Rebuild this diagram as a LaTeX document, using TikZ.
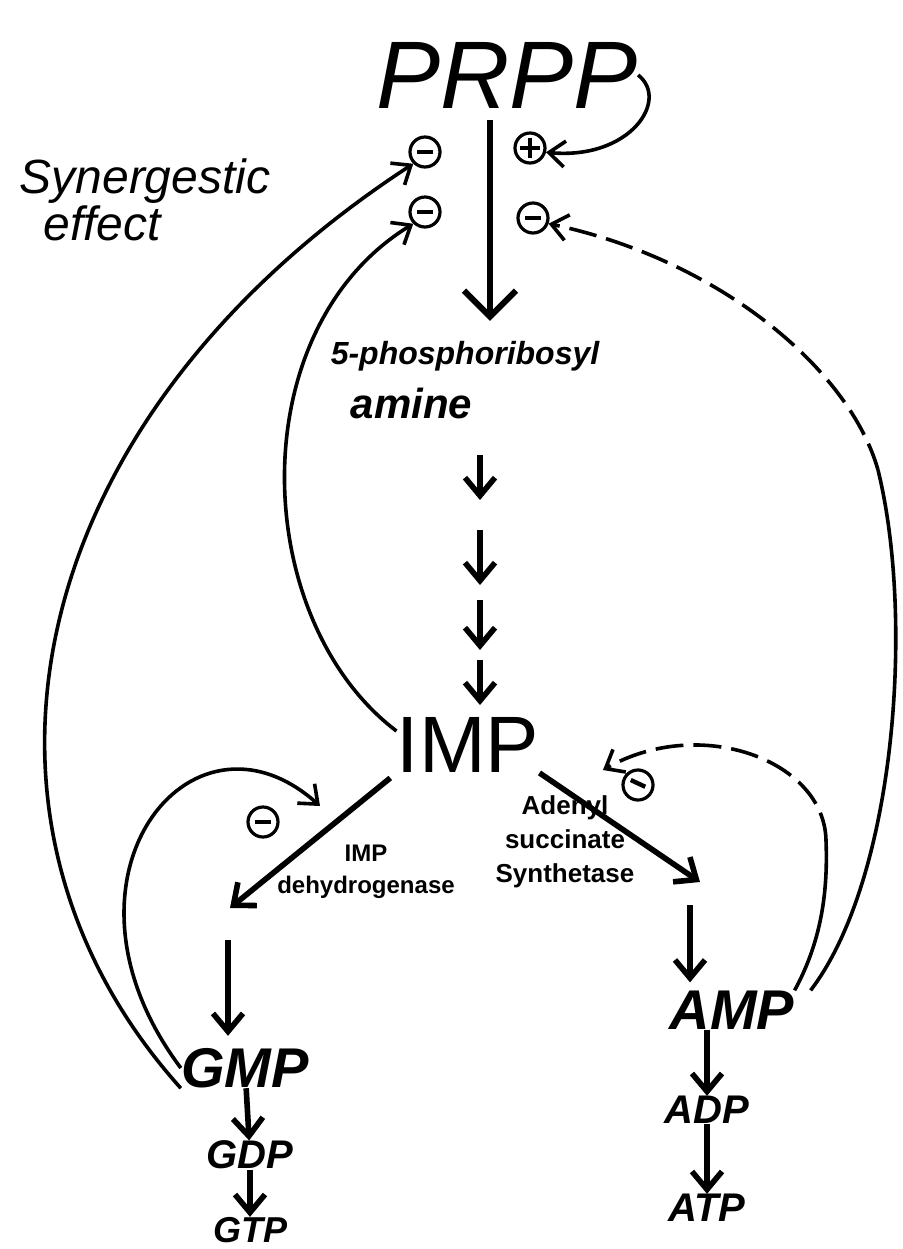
\documentclass[tikz,border=0pt]{standalone}
\usepackage{fontspec}
\setmainfont{Liberation Sans}
\usetikzlibrary{arrows.meta,positioning,calc}

\begin{document}
\begin{tikzpicture}[x=0.5pt,y=-0.5pt,
 big/.style={font=\fontsize{48}{48}\selectfont\itshape, inner sep=0pt},
 met/.style={font=\fontsize{28}{28}\selectfont\bfseries\itshape, inner sep=0pt},
 nuc/.style={font=\fontsize{20}{20}\selectfont\bfseries\itshape, inner sep=0pt},
 enz/.style={font=\fontsize{12}{16}\selectfont\bfseries, align=center, inner sep=0pt},
 regsign/.style={circle, draw, line width=1.6pt, minimum size=15pt, inner sep=0pt},
 inhsign/.style={regsign, path picture={
   \draw[line width=2.2pt] ([xshift=-4pt]path picture bounding box.center) -- ([xshift=4pt]path picture bounding box.center);}},
 actsign/.style={regsign, path picture={
   \draw[line width=1.8pt] ([xshift=-5pt]path picture bounding box.center) -- ([xshift=5pt]path picture bounding box.center)
     ([yshift=-5pt]path picture bounding box.center) -- ([yshift=5pt]path picture bounding box.center);}},
 stemarr/.style={line width=3pt, -{Straight Barb[length=13pt,width=26pt]}},
 flow/.style={line width=2.8pt, -{Straight Barb[length=9pt,width=15pt]}},
 fb/.style={line width=1.8pt, -{Straight Barb[length=8pt,width=13pt]}},
 fbd/.style={fb, dash pattern=on 14pt off 5pt},
]
 \useasboundingbox (0,0) rectangle (903,1249);
 \clip (0,0) rectangle (903,1249);
 \fill[white] (0,0) rectangle (903,1249);

 % substrate and its regulation
 \node[big] (prpp) at (507,75) {PRPP};
 \node[font=\fontsize{24}{19}\selectfont\itshape, align=left, inner sep=0pt] (syn) at (145,200)
   {Synergestic\\\hspace*{12pt}effect};
 \node[inhsign] (inhA) at (425,152) {};
 \node[actsign] (actP) at (530,148) {};
 \node[inhsign] (inhB) at (425,212) {};
 \node[inhsign] (inhC) at (533,218) {};

 \node[font=\fontsize{16}{27}\selectfont\bfseries\itshape, align=left, inner sep=0pt] (amine) at (465,380)
   {5-phosphoribosyl\\\hspace*{10pt}{\fontsize{21}{27}\selectfont amine}};
 \node[font=\fontsize{40}{40}\selectfont, inner sep=0pt] (imp) at (468,745) {IMP};

 \coordinate (stem) at (490,120);
 \draw[stemarr, shorten >=10pt] (stem) -- (stem |- amine.north);
 \foreach \ya/\yb in {455/500,530/585,600/650,660/705}
   \draw[flow] (480,\ya) -- (480,\yb);

 % branch point
 \coordinate (gend) at (230,908);
 \coordinate (aend) at (700,882);
 \draw[flow, shorten <=4pt] (imp.south west) -- (gend);
 \draw[flow] (imp.south east) -- (aend);
 \node[enz] (dehyd) at (366,872) {IMP\\dehydrogenase};
 \node[enz, font=\fontsize{13}{17}\selectfont\bfseries] (adsyn) at (565,842) {Adenyl\\succinate\\Synthetase};
 \node[inhsign] (inhG) at (263,822) {};
 \node[inhsign, rotate=-25] (inhS) at (638,785) {};

 \node[met] (gmp) at (245,1068) {GMP};
 \node[nuc] (gdp) at (250,1155) {GDP};
 \node[nuc, font=\fontsize{18}{18}\selectfont\bfseries\itshape] (gtp) at (250,1230) {GTP};
 \node[met] (amp) at (732,1010) {AMP};
 \node[nuc] (adp) at (707,1110) {ADP};
 \node[nuc] (atp) at (707,1208) {ATP};

 \coordinate (gtop) at (228,940);
 \coordinate (atop) at (690,905);
 \draw[flow, shorten >=6pt] (gtop) -- (gtop |- gmp.north);
 \draw[flow, shorten >=4pt] (atop) -- (atop |- amp.north);
 \draw[flow] (gmp) -- (gdp);
 \draw[flow] (gdp) -- (gtp);
 \draw[flow] (adp |- amp.south) -- (adp);
 \draw[flow] (adp) -- (atp);

 % feedback loops
 \draw[fb] (prpp.east) .. controls (670,100) and (630,160) .. (actP.-15);
 \draw[fb] (gmp.south west) .. controls (-60,820) and (20,420) .. (inhA.south west);
 \draw[fb] ($(imp.west)!0.5!(imp.north west)$) .. controls (250,620) and (240,330) .. (inhB.south west);
 \coordinate (rjoin) at (878,470);
 \draw[line width=1.8pt] ($(amp.north east)+(16,0)$) .. controls (895,880) and (915,620) .. (rjoin);
 \draw[fbd] (rjoin) .. controls (850,370) and (720,260) .. (inhC.-20);
 \coordinate (gstop) at (320,806);
 \draw[fb] (gmp.west) .. controls (40,880) and (190,690) .. (gstop);
 \coordinate (ajoin) at (826,840);
 \coordinate (sstop) at (603,770);
 \draw[line width=1.8pt] (amp.north east) .. controls (822,940) and (828,890) .. (ajoin);
 \draw[fbd] (ajoin) .. controls (824,760) and (700,715) .. (sstop);
\end{tikzpicture}
\end{document}
